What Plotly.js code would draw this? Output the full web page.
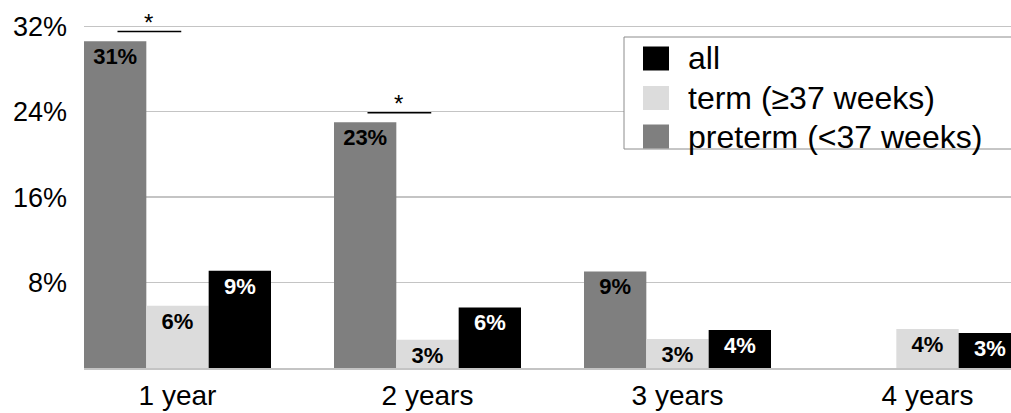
<!DOCTYPE html>
<html><head><meta charset="utf-8">
<script src="https://cdn.plot.ly/plotly-3.0.1.min.js"></script>
<style>html,body{margin:0;padding:0;background:#fff;overflow:hidden;} #chart{width:1011px;height:413px;}</style>
</head><body><div id="chart"></div>
<script>
// ---- data ----
const categories = ['1 year', '2 years', '3 years', '4 years'];
const preterm = [30.6, 23.0, 9.04, null];
const term = [5.83, 2.65, 2.71, 3.65];
const all = [9.1, 5.67, 3.55, 3.27];
const seriesNames = ['preterm (<37 weeks)', 'term (\u226537 weeks)', 'all'];
const yTickValues = [8, 16, 24, 32];
const yTickLabels = ['8%', '16%', '24%', '32%'];
const significantCategories = ['1 year', '2 years'];

// ---- layout helpers ----
const W = 1011, H = 413;
const M = {l: 84, r: 0, t: 0, b: 45};
const plotW = W - M.l - M.r, plotH = H - M.t - M.b;
const fx = px => (px - M.l) / plotW;
const fy = py => (H - M.b - py) / plotH;
const FONT = 'Liberation Sans, Arial, Helvetica, sans-serif';
const colors = ['#7f7f7f', '#dcdcdc', '#000000'];
const textColors = ['#000000', '#000000', '#ffffff'];
const seriesValues = [preterm, term, all];

const traces = seriesValues.map((vals, i) => ({
  type: 'bar',
  name: seriesNames[i],
  x: categories,
  y: vals,
  marker: {color: colors[i], line: {width: 0}},
  texttemplate: '<b>%{y:.0f}%</b>',
  textposition: 'inside',
  insidetextanchor: 'end',
  textangle: 0,
  constraintext: 'none',
  insidetextfont: {family: FONT, size: 22, color: textColors[i]},
  hoverinfo: 'skip',
  showlegend: false,
  cliponaxis: false
}));

const yMax = 34.45;
const shapes = [];
const annotations = [];

// significance brackets above preterm vs term
significantCategories.forEach(cat => {
  const idx = categories.indexOf(cat);
  const top = preterm[idx] + 0.9;
  shapes.push({type: 'line', xref: 'x', yref: 'y', x0: idx - 0.24, x1: idx + 0.015, y0: top, y1: top,
    line: {color: '#000', width: 1.5}});
  annotations.push({xref: 'x', yref: 'y', x: idx - 0.115, y: top, text: '*', showarrow: false,
    yanchor: 'bottom', xanchor: 'center', yshift: -6, font: {family: FONT, size: 24, color: '#000'}});
});

// legend (drawn manually for the large swatches); box runs off the right edge
const bx0 = fx(624), bx1 = 1.05, by0 = fy(149), by1 = fy(37);
shapes.push({type: 'path', xref: 'paper', yref: 'paper',
  path: `M ${bx1},${by1} L ${bx0},${by1} L ${bx0},${by0} L ${bx1},${by0} Z`,
  fillcolor: '#ffffff', line: {width: 0}, layer: 'above'});
shapes.push({type: 'path', xref: 'paper', yref: 'paper',
  path: `M ${bx1},${by1} L ${bx0},${by1} L ${bx0},${by0} L ${bx1},${by0}`,
  line: {color: '#8c8c8c', width: 1}, layer: 'above'});
const legendOrder = [2, 1, 0];
const legendY = [58.5, 98, 136.5];
legendOrder.forEach((s, k) => {
  const cy = legendY[k];
  shapes.push({type: 'rect', xref: 'paper', yref: 'paper', x0: fx(643), x1: fx(669), y0: fy(cy + 12), y1: fy(cy - 12),
    line: {width: 0}, fillcolor: colors[s], layer: 'above'});
  annotations.push({xref: 'paper', yref: 'paper', x: fx(686), y: fy(cy), text: seriesNames[s], showarrow: false,
    xanchor: 'left', yanchor: 'middle', font: {family: FONT, size: 32, color: '#000'}});
});

const layout = {
  width: W, height: H,
  margin: M,
  paper_bgcolor: '#fff', plot_bgcolor: '#fff',
  barmode: 'group', bargap: 0.252, bargroupgap: 0,
  showlegend: false,
  font: {family: FONT, color: '#000'},
  xaxis: {
    type: 'category', range: [-0.374, 3.334], showgrid: false, zeroline: false,
    showline: true, linecolor: '#c4c4c4', linewidth: 1.5, ticks: '',
    tickfont: {family: FONT, size: 28, color: '#000'}, ticklabelstandoff: 2, fixedrange: true
  },
  yaxis: {
    range: [0, yMax], tickvals: yTickValues, ticktext: yTickLabels,
    showgrid: true, gridcolor: '#c4c4c4', gridwidth: 1.2, zeroline: false, showline: false, ticks: '',
    tickfont: {family: FONT, size: 27, color: '#000'}, ticklabelstandoff: 16, fixedrange: true
  },
  shapes: shapes,
  annotations: annotations
};

Plotly.newPlot('chart', traces, layout, {displayModeBar: false, staticPlot: true});
</script>
</body></html>
